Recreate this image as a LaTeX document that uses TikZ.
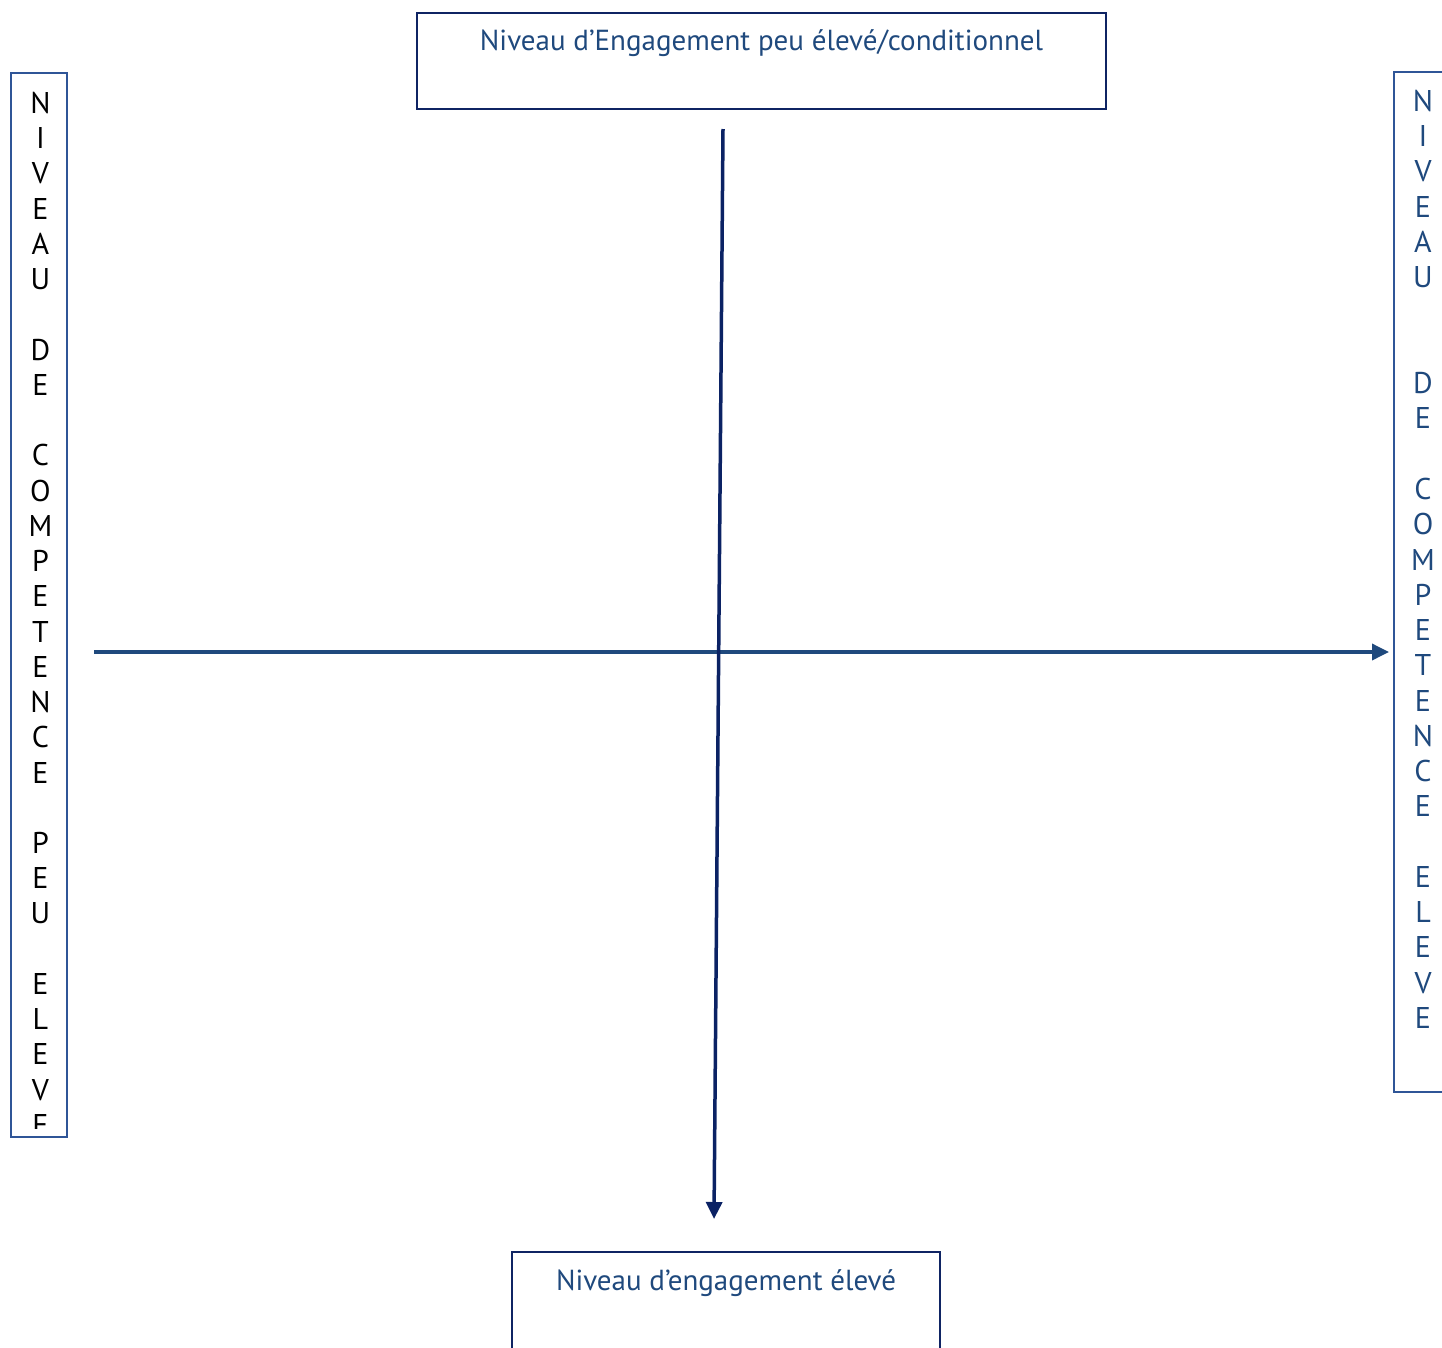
\documentclass[tikz,border=0pt]{standalone}
\usepackage{fontspec}
\setmainfont{PT Sans}
\usetikzlibrary{arrows.meta}
\definecolor{txtblue}{HTML}{1F497D}
\definecolor{navy}{HTML}{0F2463}
\definecolor{steel}{HTML}{2F5597}
\definecolor{harrow}{HTML}{1F497D}
\definecolor{varrow}{HTML}{0B2264}
\tikzset{
  boxline/.style={line width=2pt},
  letter/.style={inner sep=0pt, font=\fontsize{30}{30}\selectfont},
  title/.style={inner sep=0pt, font=\fontsize{29}{30}\selectfont, text=txtblue},
  axis/.style={line width=3.5pt, -{Triangle[length=17pt,width=16pt]}}
}
\begin{document}
\begin{tikzpicture}[x=1pt,y=-1pt]
\useasboundingbox (0,0) rectangle (1442,1347);
\clip (0,0) rectangle (1442,1347);
% top box
\draw[boxline, navy] (417,13) rectangle (1106,109);
\node[title] (toptext) at (761.5,43) {Niveau d’Engagement peu élevé/conditionnel};
% bottom box
\draw[boxline, navy] (512,1252) rectangle (940,1370);
\node[title] (bottext) at (726,1283) {Niveau d’engagement élevé};
% left box
\draw[boxline, steel] (11,73) rectangle (67,1137);
\begin{scope}
\clip (12,74) rectangle (66,1128);
\foreach \l [count=\i from 0] in {N,I,V,E,A,U,,D,E,,C,O,M,P,E,T,E,N,C,E,,P,E,U,,E,L,E,V,E}
  \node[letter, text=black] (L\i) at (40.5,{103+35.24*\i}) {\l};
\end{scope}
% right box
\draw[boxline, steel] (1394,72) rectangle (1460,1092);
\foreach \l [count=\i from 0] in {N,I,V,E,A,U,,,D,E,,C,O,M,P,E,T,E,N,C,E,,E,L,E,V,E}
  \node[letter, text=txtblue] (R\i) at (1423,{101+35.27*\i}) {\l};
% axes
\coordinate (hstart) at (94,652);
\coordinate (hend) at (1389,652);
\coordinate (vstart) at (723,129);
\coordinate (vend) at (714,1219);
\draw[axis, harrow] (hstart) -- (hend);
\draw[axis, varrow] (vstart) -- (vend);
\end{tikzpicture}
\end{document}
